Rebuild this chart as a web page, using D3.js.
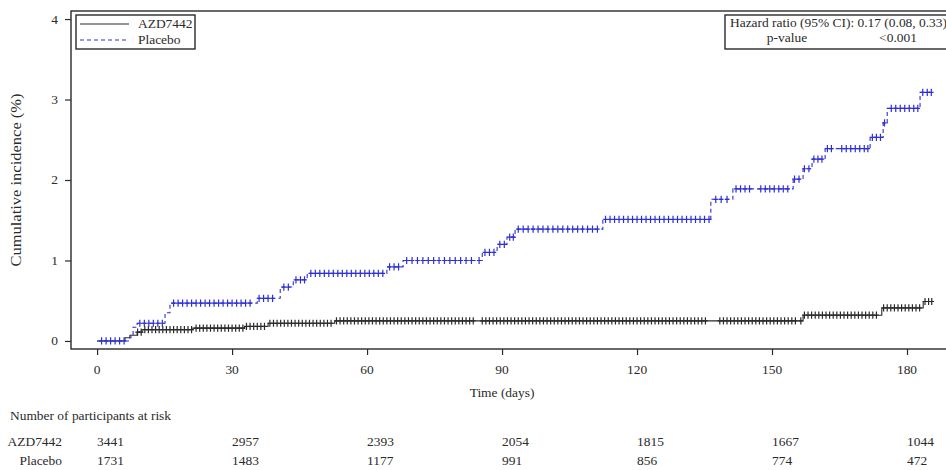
<!DOCTYPE html>
<html>
<head>
<meta charset="utf-8">
<script src="https://cdn.jsdelivr.net/npm/d3@7"></script>
<style>
  body { margin: 0; background: #fff; }
  svg { display: block; font-family: 'Liberation Serif', 'Times New Roman', serif; }
</style>
</head>
<body>
<div id="chart"></div>
<script>
// Step curves: time (days) where the cumulative incidence (%) changes
const azdTimes = [0, 6.2, 7.3, 8.9, 10, 21.3, 32.8, 38, 52.8, 156.9, 174.4, 183.6, 185.6];
const azdValues = [0, 0.04, 0.07, 0.11, 0.14, 0.16, 0.18, 0.22, 0.25, 0.32, 0.41, 0.49, 0.49];
const placeboTimes = [0, 7.3, 8, 8.9, 15.1, 16.2, 35.6, 40.7, 43.6, 46.7, 64.4, 68, 85.6, 88.9, 91.1, 92.9, 112.4, 136.4, 141.3, 154.7, 156.9, 158.9, 161.8, 171.8, 174.7, 175.6, 182.9, 185.6];
const placeboValues = [0, 0.05, 0.17, 0.22, 0.35, 0.47, 0.53, 0.67, 0.76, 0.84, 0.92, 1.0, 1.1, 1.2, 1.29, 1.39, 1.51, 1.76, 1.89, 2.01, 2.14, 2.26, 2.39, 2.53, 2.71, 2.89, 3.09, 3.09];

// Censoring marks (days)
const azdCensored = [9, 9.8, 10.6, 11.4, 12.2, 13, 13.8, 14.6, 15.4, 16.2, 17, 17.8, 18.6, 19.4, 20.2, 21, 22, 22.8, 23.6, 24.4, 25.2, 26, 26.8, 27.6, 28.4, 29.2, 30, 30.8, 31.6, 32.4, 33.2, 34, 34.8, 35.6, 36.4, 37.2, 38.4, 39.2, 40, 40.8, 41.6, 42.4, 43.2, 44, 44.8, 45.6, 46.4, 47.2, 48, 48.8, 49.6, 50.4, 51.2, 52, 53.2, 54, 54.8, 55.6, 56.4, 57.2, 58, 58.8, 59.6, 60.4, 61.2, 62, 62.8, 63.6, 64.4, 65.2, 66, 66.8, 67.6, 68.4, 69.2, 70, 70.8, 71.6, 72.4, 73.2, 74, 74.8, 75.6, 76.4, 77.2, 78, 78.8, 79.6, 80.4, 81.2, 82, 82.8, 83.6, 85.6, 86.4, 87.2, 88, 88.8, 89.6, 90.4, 91.2, 92, 92.8, 93.6, 94.4, 95.2, 96, 96.8, 97.6, 98.4, 99.2, 100, 100.8, 101.6, 102.4, 103.2, 104, 104.8, 105.6, 106.4, 107.2, 108, 108.8, 109.6, 110.4, 111.2, 112, 112.8, 113.6, 114.4, 115.2, 116, 116.8, 117.6, 118.4, 119.2, 120, 120.8, 121.6, 122.4, 123.2, 124, 124.8, 125.6, 126.4, 127.2, 128, 128.8, 129.6, 130.4, 131.2, 132, 132.8, 133.6, 134.4, 135.2, 138.4, 139.2, 140, 140.8, 141.6, 142.4, 143.2, 144, 144.8, 145.6, 146.4, 147.2, 148, 148.8, 149.6, 150.4, 151.2, 152, 152.8, 153.6, 154.4, 155.2, 156.4, 157.2, 158, 158.8, 159.6, 160.4, 161.2, 162, 162.8, 163.6, 164.4, 165.2, 166, 166.8, 167.6, 168.4, 169.2, 170, 170.8, 171.6, 172.4, 173.2, 174.8, 175.6, 176.4, 177.2, 178, 178.8, 179.6, 180.4, 181.2, 182, 182.8, 184, 184.8, 185.5];
const placeboCensored = [1, 2, 3, 4, 5, 6, 9.5, 10.5, 11.5, 12.5, 13.5, 14.5, 17, 18, 19, 20, 21, 22, 23, 24, 25, 26, 27, 28, 29, 30, 31, 32, 33, 34, 36, 37, 38, 39, 41.5, 42.5, 44.2, 45.2, 46.1, 47.5, 48.5, 49.5, 50.5, 51.5, 52.5, 53.5, 54.5, 55.5, 56.5, 57.5, 58.5, 59.5, 60.5, 61.5, 62.5, 63.5, 65, 66, 67, 68.8, 70, 71.2, 72.4, 73.6, 74.8, 76, 77.2, 78.4, 79.6, 80.8, 82, 83.2, 84.9, 86.2, 87.2, 88.2, 89.5, 90.5, 91.7, 92.5, 93.6, 94.7, 95.8, 96.9, 98, 99.1, 100.2, 101.3, 102.4, 103.5, 104.6, 105.7, 106.8, 107.9, 109, 110.1, 111.2, 113, 114, 115, 116, 117, 118, 119, 120, 121, 122, 123, 124, 125, 126, 127, 128, 129, 130, 131, 132, 133, 134, 135, 136, 137.5, 138.7, 140, 142, 143, 144, 145, 147.5, 148.5, 149.5, 150.5, 151.5, 152.5, 153.5, 155, 156, 157.2, 158.2, 159.3, 160.2, 161.1, 162.3, 163.2, 165.5, 166.5, 167.5, 168.5, 169.5, 170.5, 171.3, 172.3, 173.2, 174.1, 175, 176.5, 177.5, 178.5, 179.5, 180.5, 181.5, 182.4, 183.5, 184.5, 185.4];

// Axis ticks and at-risk table
const xTicks = [0, 30, 60, 90, 120, 150, 180];
const yTicks = [0, 1, 2, 3, 4];
const riskDays = [0, 30, 60, 90, 120, 150, 180];
const azdRisk = [3441, 2957, 2393, 2054, 1815, 1667, 1044];
const placeboRisk = [1731, 1483, 1177, 991, 856, 774, 472];

const width = 946;
const height = 470;
const ink = '#2a2a2a';
const blue = '#2f2fd6';
const fontSize = 12.8;
const widen = 1.05; // source text runs a little wide

const svg = d3.select('#chart').append('svg')
  .attr('width', width)
  .attr('height', height);

const x = d3.scaleLinear().domain([-5.8, 190]).range([71, 952]);
const y = d3.scaleLinear().domain([-0.1, 4.1]).range([349, 11]);

const label = (g, px, py, str, anchor = 'start') => g.append('text')
  .attr('transform', `translate(${px},${py}) scale(${widen},1)`)
  .attr('text-anchor', anchor)
  .attr('dy', '0.35em')
  .attr('font-size', fontSize)
  .attr('fill', ink)
  .text(str);

// Frame
svg.append('rect')
  .attr('x', x.range()[0]).attr('y', y.range()[1])
  .attr('width', x.range()[1] - x.range()[0])
  .attr('height', y.range()[0] - y.range()[1])
  .attr('fill', 'none').attr('stroke', ink).attr('stroke-width', 1.4);

// Axes (ticks only, labels drawn separately)
svg.append('g')
  .attr('transform', `translate(0,${y.range()[0]})`)
  .call(d3.axisBottom(x).tickValues(xTicks).tickSize(6).tickFormat(''))
  .call(g => g.select('.domain').remove())
  .call(g => g.selectAll('line').attr('stroke', ink).attr('stroke-width', 1.2));

svg.append('g')
  .attr('transform', `translate(${x.range()[0]},0)`)
  .call(d3.axisLeft(y).tickValues(yTicks).tickSize(6).tickFormat(''))
  .call(g => g.select('.domain').remove())
  .call(g => g.selectAll('line').attr('stroke', ink).attr('stroke-width', 1.2));

xTicks.forEach(t => label(svg, x(t), 370, t, 'middle'));
yTicks.forEach(v => label(svg, 58, y(v), v, 'end'));

label(svg, x(90), 393, 'Time (days)', 'middle');

svg.append('text')
  .attr('transform', `translate(16,180) rotate(-90) scale(1,0.82)`)
  .attr('text-anchor', 'middle')
  .attr('dy', '0.35em')
  .attr('font-size', 16.5)
  .attr('fill', ink)
  .text('Cumulative incidence (%)');

// Step curves
const stepLine = d3.line()
  .x(d => x(d[0]))
  .y(d => y(d[1]))
  .curve(d3.curveStepAfter);

const series = [
  { times: azdTimes, values: azdValues, cens: azdCensored, color: ink, dash: null },
  { times: placeboTimes, values: placeboValues, cens: placeboCensored, color: blue, dash: '4,3' }
];

const valueAt = (s, t) => s.values[d3.bisectRight(s.times, t) - 1];

series.forEach(s => {
  svg.append('path')
    .datum(s.times.map((t, i) => [t, s.values[i]]))
    .attr('d', stepLine)
    .attr('fill', 'none')
    .attr('stroke', s.color)
    .attr('stroke-width', 1.1)
    .attr('stroke-dasharray', s.dash);

  svg.append('g')
    .selectAll('path')
    .data(s.cens)
    .enter()
    .append('path')
    .attr('d', t => {
      const cx = x(t);
      const cy = y(valueAt(s, t));
      return `M${cx - 2.3},${cy}H${cx + 2.3}M${cx},${cy - 3.6}V${cy + 3.6}`;
    })
    .attr('stroke', s.color)
    .attr('stroke-width', 1.2);
});

// Legend
const legend = svg.append('g');
legend.append('rect')
  .attr('x', 76).attr('y', 15).attr('width', 119).attr('height', 34)
  .attr('fill', '#fff').attr('stroke', ink).attr('stroke-width', 1.4);
legend.append('line')
  .attr('x1', 80).attr('x2', 129).attr('y1', 24).attr('y2', 24)
  .attr('stroke', ink).attr('stroke-width', 1.1);
legend.append('line')
  .attr('x1', 80).attr('x2', 129).attr('y1', 40).attr('y2', 40)
  .attr('stroke', blue).attr('stroke-width', 1.1).attr('stroke-dasharray', '4,3');
label(legend, 138, 24, 'AZD7442');
label(legend, 138, 40, 'Placebo');

// Hazard ratio box
const hr = svg.append('g');
hr.append('rect')
  .attr('x', 725).attr('y', 15).attr('width', 240).attr('height', 34)
  .attr('fill', '#fff').attr('stroke', ink).attr('stroke-width', 1.4);
label(hr, 730, 23, 'Hazard ratio (95% CI): 0.17 (0.08, 0.33)');
label(hr, 787, 38, 'p-value', 'middle');
label(hr, 898, 38, '<0.001', 'middle');

// Number at risk
label(svg, 10, 416, 'Number of participants at risk');
label(svg, 62, 442, 'AZD7442', 'end');
label(svg, 62, 461, 'Placebo', 'end');
riskDays.forEach((d, i) => {
  label(svg, x(d), 442, azdRisk[i]);
  label(svg, x(d), 461, placeboRisk[i]);
});
</script>
</body>
</html>
